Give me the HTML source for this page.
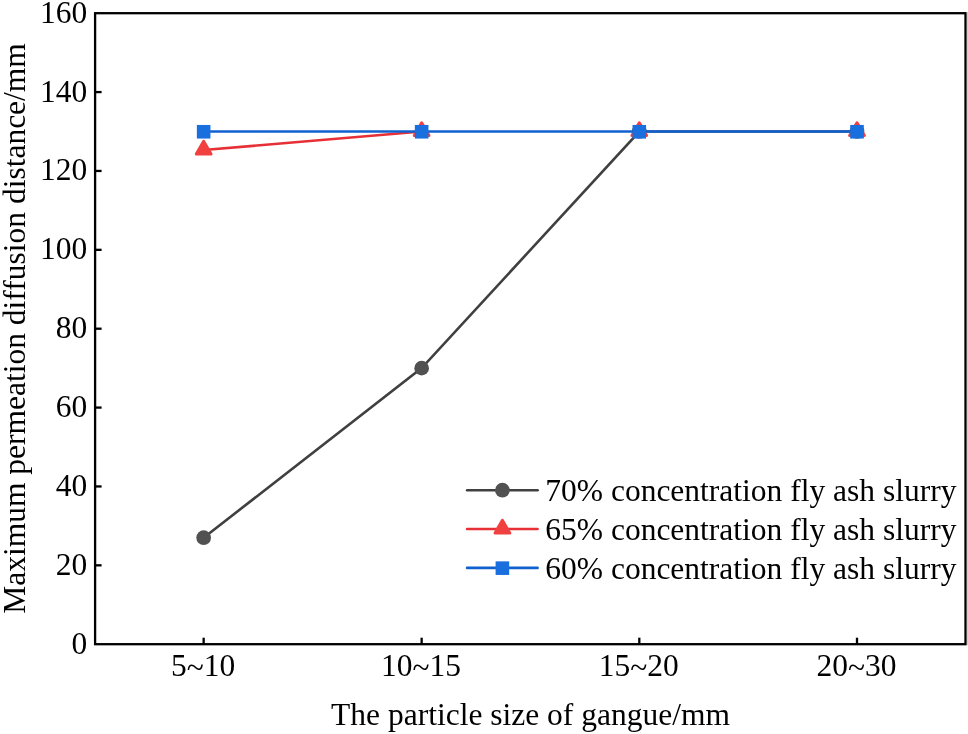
<!DOCTYPE html>
<html lang="en"><head><meta charset="utf-8"><title>Maximum permeation diffusion distance</title>
<style>html,body{margin:0;padding:0;background:#fff}svg{display:block;will-change:transform}</style></head>
<body>
<svg width="968" height="734" viewBox="0 0 968 734" font-family="'Liberation Serif', 'Times New Roman', serif" font-size="31.5" fill="#000">
<rect x="0" y="0" width="968" height="734" fill="#fff"/>
<polyline points="203.65,537.72 421.65,368.14 639.30,131.51 857.00,131.51" fill="none" stroke="#404040" stroke-width="2.6"/>
<circle cx="203.65" cy="537.72" r="7.35" fill="#515151"/>
<circle cx="421.65" cy="368.14" r="7.35" fill="#515151"/>
<circle cx="639.30" cy="131.51" r="7.35" fill="#515151"/>
<circle cx="857.00" cy="131.51" r="7.35" fill="#515151"/>
<polyline points="203.65,150.05 421.65,131.51" fill="none" stroke="#E63035" stroke-width="2.6"/>
<polyline points="421.65,131.51 639.30,131.51 857.00,131.51" fill="none" stroke="#E63035" stroke-width="1.2"/>
<polygon points="203.65,141.35 211.01,154.10 196.29,154.10" fill="#F14040" stroke="#F14040" stroke-width="3" stroke-linejoin="round"/>
<polygon points="421.65,122.81 429.01,135.56 414.29,135.56" fill="#F14040" stroke="#F14040" stroke-width="3" stroke-linejoin="round"/>
<polygon points="639.30,122.81 646.66,135.56 631.94,135.56" fill="#F14040" stroke="#F14040" stroke-width="3" stroke-linejoin="round"/>
<polygon points="857.00,122.81 864.36,135.56 849.64,135.56" fill="#F14040" stroke="#F14040" stroke-width="3" stroke-linejoin="round"/>
<polyline points="203.65,131.51 421.65,131.51 639.30,131.51 857.00,131.51" fill="none" stroke="#1160D0" stroke-width="2.6"/>
<rect x="196.85" y="124.96" width="13.6" height="13.6" fill="#1A6FDF"/>
<rect x="414.85" y="124.96" width="13.6" height="13.6" fill="#1A6FDF"/>
<rect x="632.50" y="124.96" width="13.6" height="13.6" fill="#1A6FDF"/>
<rect x="850.20" y="124.96" width="13.6" height="13.6" fill="#1A6FDF"/>
<rect x="95.1" y="13.2" width="870.4" height="631.0" fill="none" stroke="#000" stroke-width="2.3"/>
<rect x="967" y="12.05" width="1" height="633.30" fill="#cfcfcf"/>
<text transform="translate(87.3,653.70) scale(1,1.034)" text-anchor="end">0</text>
<line x1="95.1" y1="565.33" x2="101.6" y2="565.33" stroke="#000" stroke-width="2.3"/>
<text transform="translate(87.3,574.83) scale(1,1.034)" text-anchor="end">20</text>
<line x1="95.1" y1="486.45" x2="101.6" y2="486.45" stroke="#000" stroke-width="2.3"/>
<text transform="translate(87.3,495.95) scale(1,1.034)" text-anchor="end">40</text>
<line x1="95.1" y1="407.58" x2="101.6" y2="407.58" stroke="#000" stroke-width="2.3"/>
<text transform="translate(87.3,417.08) scale(1,1.034)" text-anchor="end">60</text>
<line x1="95.1" y1="328.70" x2="101.6" y2="328.70" stroke="#000" stroke-width="2.3"/>
<text transform="translate(87.3,338.20) scale(1,1.034)" text-anchor="end">80</text>
<line x1="95.1" y1="249.83" x2="101.6" y2="249.83" stroke="#000" stroke-width="2.3"/>
<text transform="translate(87.3,259.33) scale(1,1.034)" text-anchor="end">100</text>
<line x1="95.1" y1="170.95" x2="101.6" y2="170.95" stroke="#000" stroke-width="2.3"/>
<text transform="translate(87.3,180.45) scale(1,1.034)" text-anchor="end">120</text>
<line x1="95.1" y1="92.08" x2="101.6" y2="92.08" stroke="#000" stroke-width="2.3"/>
<text transform="translate(87.3,101.58) scale(1,1.034)" text-anchor="end">140</text>
<text transform="translate(87.3,22.70) scale(1,1.034)" text-anchor="end">160</text>
<line x1="203.65" y1="644.2" x2="203.65" y2="637.7" stroke="#000" stroke-width="2.3"/>
<text transform="translate(203.05,675.7) scale(1,1.034)" text-anchor="middle">5<tspan dy="2.4">~</tspan><tspan dy="-2.4">10</tspan></text>
<line x1="421.65" y1="644.2" x2="421.65" y2="637.7" stroke="#000" stroke-width="2.3"/>
<text transform="translate(421.05,675.7) scale(1,1.034)" text-anchor="middle">10<tspan dy="2.4">~</tspan><tspan dy="-2.4">15</tspan></text>
<line x1="639.30" y1="644.2" x2="639.30" y2="637.7" stroke="#000" stroke-width="2.3"/>
<text transform="translate(638.70,675.7) scale(1,1.034)" text-anchor="middle">15<tspan dy="2.4">~</tspan><tspan dy="-2.4">20</tspan></text>
<line x1="857.00" y1="644.2" x2="857.00" y2="637.7" stroke="#000" stroke-width="2.3"/>
<text transform="translate(856.40,675.7) scale(1,1.034)" text-anchor="middle">20<tspan dy="2.4">~</tspan><tspan dy="-2.4">30</tspan></text>
<text x="530.5" y="725.4" text-anchor="middle">The particle size of gangue/mm</text>
<text transform="translate(24.8,328.5) rotate(-90)" text-anchor="middle">Maximum permeation diffusion distance/mm</text>
<line x1="467.1" y1="490.2" x2="537.6" y2="490.2" stroke="#404040" stroke-width="2.6" stroke-linecap="round"/>
<text x="545.3" y="501.00">70% concentration fly ash slurry</text>
<line x1="467.1" y1="529.0" x2="537.6" y2="529.0" stroke="#E63035" stroke-width="2.6" stroke-linecap="round"/>
<text x="545.3" y="539.80">65% concentration fly ash slurry</text>
<line x1="467.1" y1="567.9" x2="537.6" y2="567.9" stroke="#1160D0" stroke-width="2.6" stroke-linecap="round"/>
<text x="545.3" y="578.70">60% concentration fly ash slurry</text>
<circle cx="502.4" cy="490.2" r="7.35" fill="#515151"/>
<polygon points="502.40,520.30 509.76,533.05 495.04,533.05" fill="#F14040" stroke="#F14040" stroke-width="3" stroke-linejoin="round"/>
<rect x="495.60" y="561.35" width="13.6" height="13.6" fill="#1A6FDF"/>
</svg>
</body></html>
